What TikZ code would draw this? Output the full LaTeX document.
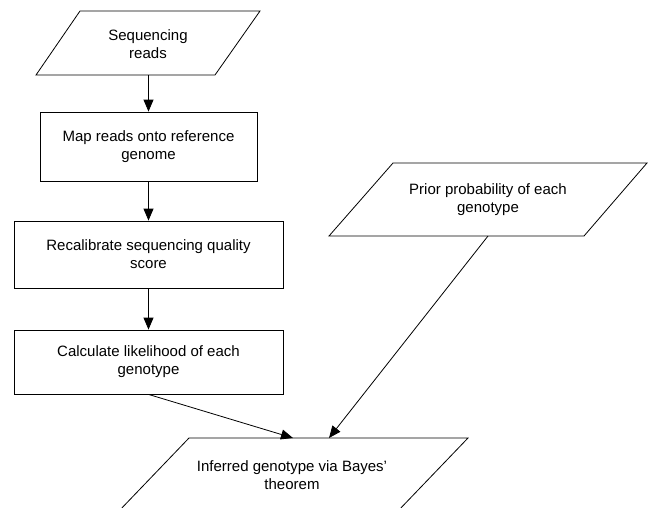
\documentclass[tikz,border=0pt]{standalone}
\usepackage{fontspec}
\setmainfont{Liberation Sans}
\usetikzlibrary{arrows.meta}
\begin{document}
\begin{tikzpicture}[x=1pt,y=-1pt,
  font=\fontsize{15}{18}\selectfont,
  line width=0.8pt,
  box/.style={draw, rectangle, inner sep=0pt, align=center},
  lbl/.style={align=center, inner sep=0pt},
  arr/.style={-{Triangle[length=12pt,width=10pt]}}]
\useasboundingbox (0,0) rectangle (648,507);
\clip (0,0) rectangle (648,507);
% Sequencing reads
\draw (80,11) -- (260,11) -- (215,75) -- (36,75) -- cycle;
\node[lbl] (reads) at (148,44) {Sequencing\\reads};
\coordinate (readsS) at (148.5,75);
% boxes
\node[box, minimum width=217pt, minimum height=69pt] (map) at (148.5,146.5) {Map reads onto reference\\genome};
\node[box, minimum width=269pt, minimum height=67pt] (recal) at (148.5,254.5) {Recalibrate sequencing quality\\score};
\node[box, minimum width=269pt, minimum height=64pt] (calc) at (148.5,362) {Calculate likelihood of each\\genotype};
% Prior
\draw (393,163) -- (647,163) -- (584,236) -- (329,236) -- cycle;
\node[lbl] (prior) at (488,200) {Prior probability of each\\genotype};
\coordinate (priorS) at (488,236);
% Inferred
\draw (189,438) -- (468,438) -- (397,512) -- (118,512) -- cycle;
\node[lbl] (inf) at (292,475) {Inferred genotype via Bayes'\\theorem};
\coordinate (infA) at (293,438);
\coordinate (infB) at (329,438);
% connectors
\draw[arr] (readsS) -- (map.north);
\draw[arr] (map.south) -- (recal.north);
\draw[arr] (recal.south) -- (calc.north);
\draw[arr] (calc.south) -- (infA);
\draw[arr] (priorS) -- (infB);
\end{tikzpicture}
\end{document}
